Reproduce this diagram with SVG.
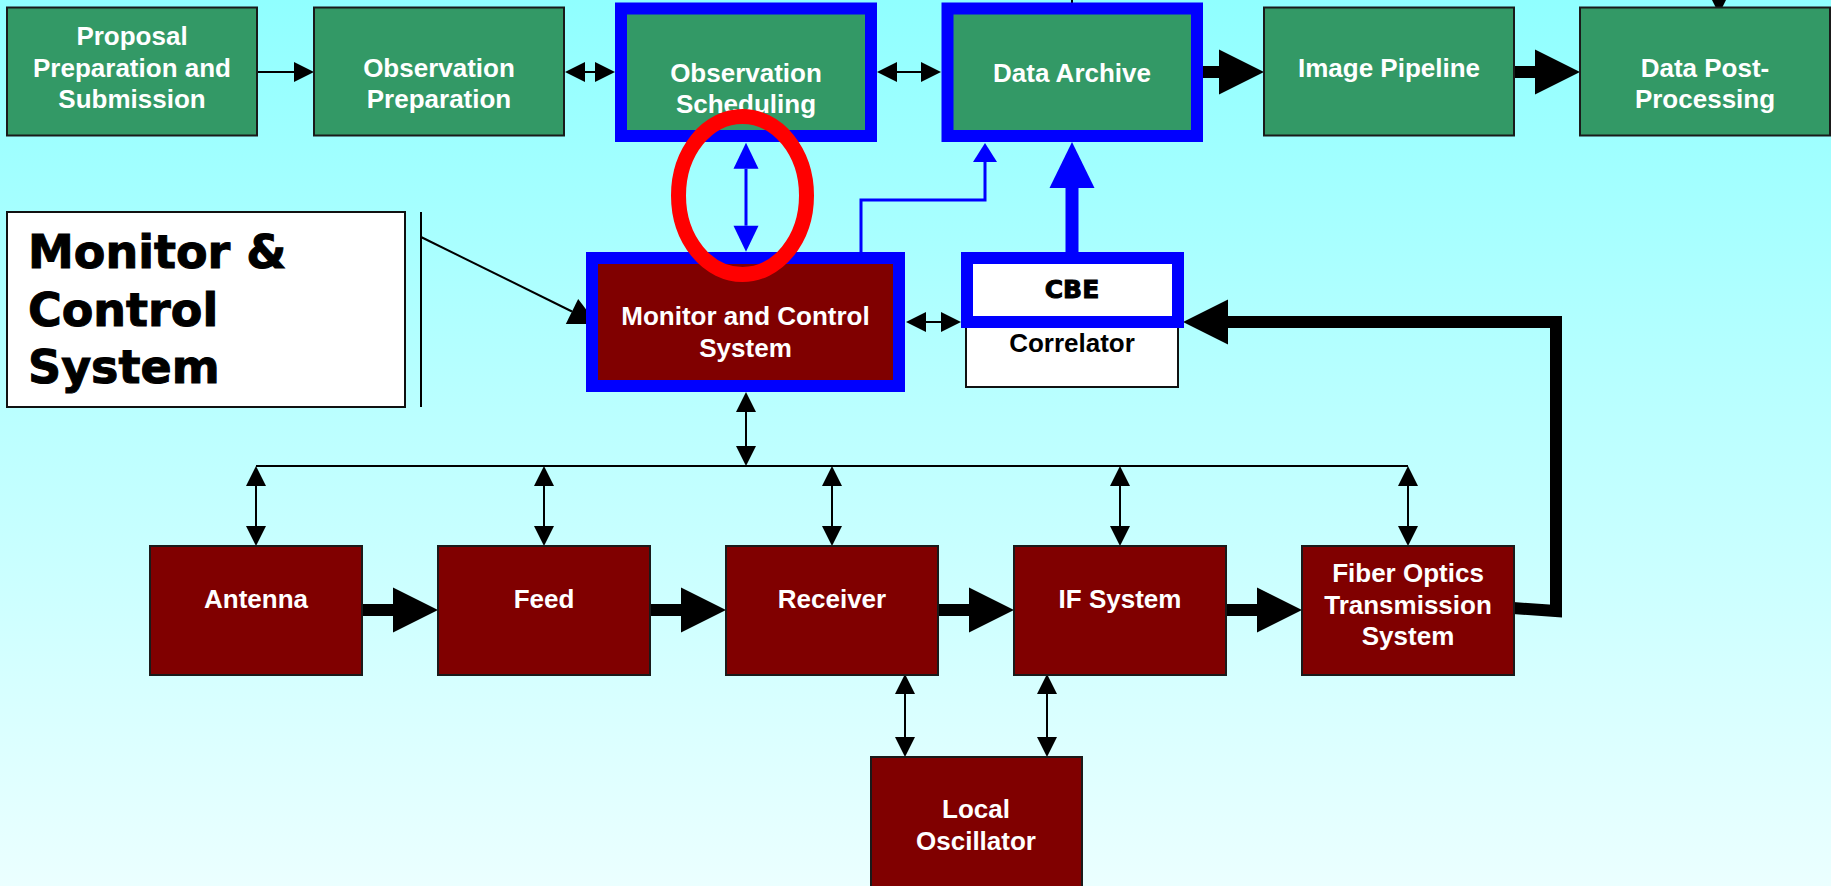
<svg xmlns="http://www.w3.org/2000/svg" width="1831" height="886" viewBox="0 0 1831 886">
<defs>
<linearGradient id="bg" x1="0" y1="0" x2="0" y2="1">
<stop offset="0" stop-color="#90FFFF"/>
<stop offset="1" stop-color="#EBFFFF"/>
</linearGradient>
<marker id="ah" markerUnits="userSpaceOnUse" markerWidth="20" markerHeight="20" refX="0" refY="10" orient="auto-start-reverse" overflow="visible"><path d="M0,0 L20,10 L0,20 Z" fill="#000"/></marker>
<marker id="ah2" markerUnits="userSpaceOnUse" markerWidth="28" markerHeight="28" refX="0" refY="14" orient="auto" overflow="visible"><path d="M0,0 L28,14 L0,28 Z" fill="#000"/></marker>
<marker id="big" markerUnits="userSpaceOnUse" markerWidth="45" markerHeight="45" refX="0" refY="22.5" orient="auto" overflow="visible"><path d="M0,0 L45,22.5 L0,45 Z" fill="#000"/></marker>
<marker id="bh" markerUnits="userSpaceOnUse" markerWidth="26" markerHeight="25" refX="0" refY="12.5" orient="auto-start-reverse" overflow="visible"><path d="M0,0 L26,12.5 L0,25 Z" fill="#0000FF"/></marker>
<marker id="bh2" markerUnits="userSpaceOnUse" markerWidth="19" markerHeight="24" refX="0" refY="12" orient="auto" overflow="visible"><path d="M0,0 L19,12 L0,24 Z" fill="#0000FF"/></marker>
<marker id="bbig" markerUnits="userSpaceOnUse" markerWidth="46" markerHeight="45" refX="0" refY="22.5" orient="auto" overflow="visible"><path d="M0,0 L46,22.5 L0,45 Z" fill="#0000FF"/></marker>
</defs>
<style>
.g{fill:#339966;stroke:#1a1a1a;stroke-width:2}
.gb{fill:#339966;stroke:#0000FF;stroke-width:12}
.r{fill:#800000;stroke:#1a1a1a;stroke-width:2}
.w{fill:#FFFFFF;stroke:#111;stroke-width:2}
.t{font-family:"Liberation Sans",Arial,sans-serif;font-weight:bold;font-size:26px;fill:#FFFFFF;text-anchor:middle}
.k{fill:#000}
.h{font-family:"DejaVu Sans","Liberation Sans",sans-serif;font-weight:bold;fill:#000;stroke:#000;stroke-width:1}
.thin{stroke:#000;stroke-width:2;fill:none}
.thick{stroke:#000;stroke-width:12;fill:none}
.blue{stroke:#0000FF;stroke-width:3;fill:none}
</style>
<rect x="0" y="0" width="1831" height="886" fill="url(#bg)"/>

<g id="connectors">
<line class="thin" x1="1072" y1="0" x2="1072" y2="3"/>
<polygon points="1712,0 1726,0 1719,14" fill="#000"/>
<line class="thin" x1="257" y1="72" x2="294" y2="72" marker-end="url(#ah)"/>
<line class="thin" x1="585" y1="72" x2="595" y2="72" marker-start="url(#ah)" marker-end="url(#ah)"/>
<line class="thin" x1="897" y1="72" x2="921" y2="72" marker-start="url(#ah)" marker-end="url(#ah)"/>
<line class="thick" x1="1203" y1="72" x2="1219" y2="72" marker-end="url(#big)"/>
<line class="thick" x1="1514" y1="72" x2="1535" y2="72" marker-end="url(#big)"/>
<line class="blue" x1="746" y1="168.7" x2="746" y2="225.7" marker-start="url(#bh)" marker-end="url(#bh)"/>
<polyline class="blue" points="861,252 861,200 985,200 985,162" marker-end="url(#bh2)"/>
<line stroke="#0000FF" stroke-width="13" x1="1072" y1="252" x2="1072" y2="188" marker-end="url(#bbig)"/>
<line class="thin" x1="926" y1="322" x2="941" y2="322" marker-start="url(#ah)" marker-end="url(#ah)"/>
<line class="thin" x1="421" y1="212" x2="421" y2="407"/>
<line class="thin" x1="421" y1="237" x2="572" y2="311.5" marker-end="url(#ah2)"/>
<line class="thin" x1="746" y1="412" x2="746" y2="446" marker-start="url(#ah)" marker-end="url(#ah)"/>
<line class="thin" x1="256" y1="466" x2="1408" y2="466"/>
<line class="thin" x1="256" y1="486" x2="256" y2="526" marker-start="url(#ah)" marker-end="url(#ah)"/>
<line class="thin" x1="544" y1="486" x2="544" y2="526" marker-start="url(#ah)" marker-end="url(#ah)"/>
<line class="thin" x1="832" y1="486" x2="832" y2="526" marker-start="url(#ah)" marker-end="url(#ah)"/>
<line class="thin" x1="1120" y1="486" x2="1120" y2="526" marker-start="url(#ah)" marker-end="url(#ah)"/>
<line class="thin" x1="1408" y1="486" x2="1408" y2="526" marker-start="url(#ah)" marker-end="url(#ah)"/>
<line class="thick" x1="362" y1="610" x2="393" y2="610" marker-end="url(#big)"/>
<line class="thick" x1="650" y1="610" x2="681" y2="610" marker-end="url(#big)"/>
<line class="thick" x1="938" y1="610" x2="969" y2="610" marker-end="url(#big)"/>
<line class="thick" x1="1226" y1="610" x2="1257" y2="610" marker-end="url(#big)"/>
<line class="thin" x1="905" y1="694" x2="905" y2="737" marker-start="url(#ah)" marker-end="url(#ah)"/>
<line class="thin" x1="1047" y1="694" x2="1047" y2="737" marker-start="url(#ah)" marker-end="url(#ah)"/>
<polyline class="thick" stroke-linejoin="miter" points="1513,608 1556,611 1556,322 1228,322" marker-end="url(#big)"/>
</g>

<g id="proposal"><rect class="g" x="7" y="7.5" width="250" height="128"/>
<text class="t" x="132" y="45">Proposal</text><text class="t" x="132" y="77">Preparation and</text><text class="t" x="132" y="108">Submission</text></g>
<g id="obs-prep"><rect class="g" x="314" y="7.5" width="250" height="128"/>
<text class="t" x="439" y="77">Observation</text><text class="t" x="439" y="108">Preparation</text></g>
<g id="obs-sched"><rect class="gb" x="621" y="8.5" width="250" height="127.5"/>
<text class="t" x="746" y="82">Observation</text><text class="t" x="746" y="113">Scheduling</text></g>
<g id="data-archive"><rect class="gb" x="947.5" y="8.5" width="249.5" height="127.5"/>
<text class="t" x="1072" y="82">Data Archive</text></g>
<g id="image-pipeline"><rect class="g" x="1264" y="7.5" width="250" height="128"/>
<text class="t" x="1389" y="77">Image Pipeline</text></g>
<g id="data-post"><rect class="g" x="1580" y="7.5" width="250" height="128"/>
<text class="t" x="1705" y="77">Data Post-</text><text class="t" x="1705" y="108">Processing</text></g>

<g id="mc-label"><rect class="w" x="7" y="212" width="398" height="195"/>
<text class="h" font-size="46" x="28" y="268">Monitor &amp;</text><text class="h" font-size="46" x="28" y="326">Control</text><text class="h" font-size="46" x="28" y="383">System</text></g>

<g id="mcs"><rect x="592" y="258" width="307" height="128" fill="#800000" stroke="#0000FF" stroke-width="12"/>
<text class="t" x="745.5" y="325">Monitor and Control</text><text class="t" x="745.5" y="357">System</text></g>

<g id="correlator"><rect class="w" x="966" y="270" width="212" height="117"/>
<text class="t k" x="1072" y="352">Correlator</text></g>
<g id="cbe"><rect x="967" y="258" width="211" height="64" fill="#FFFFFF" stroke="#0000FF" stroke-width="12"/>
<text class="h" font-size="25" stroke-width="0.8" x="1072" y="298" text-anchor="middle">CBE</text></g>

<g id="antenna"><rect class="r" x="150" y="546" width="212" height="129"/><text class="t" x="256" y="608">Antenna</text></g>
<g id="feed"><rect class="r" x="438" y="546" width="212" height="129"/><text class="t" x="544" y="608">Feed</text></g>
<g id="receiver"><rect class="r" x="726" y="546" width="212" height="129"/><text class="t" x="832" y="608">Receiver</text></g>
<g id="if-system"><rect class="r" x="1014" y="546" width="212" height="129"/><text class="t" x="1120" y="608">IF System</text></g>
<g id="fiber"><rect class="r" x="1302" y="546" width="212" height="129"/>
<text class="t" x="1408" y="582">Fiber Optics</text><text class="t" font-size="23" x="1408" y="614">Transmission</text><text class="t" x="1408" y="645">System</text></g>
<g id="local-osc"><rect class="r" x="871" y="757" width="211" height="140"/>
<text class="t" x="976" y="818">Local</text><text class="t" x="976" y="850">Oscillator</text></g>

<g id="highlight"><ellipse cx="742.5" cy="195.5" rx="64" ry="79" fill="none" stroke="#FF0000" stroke-width="15"/></g>
</svg>
